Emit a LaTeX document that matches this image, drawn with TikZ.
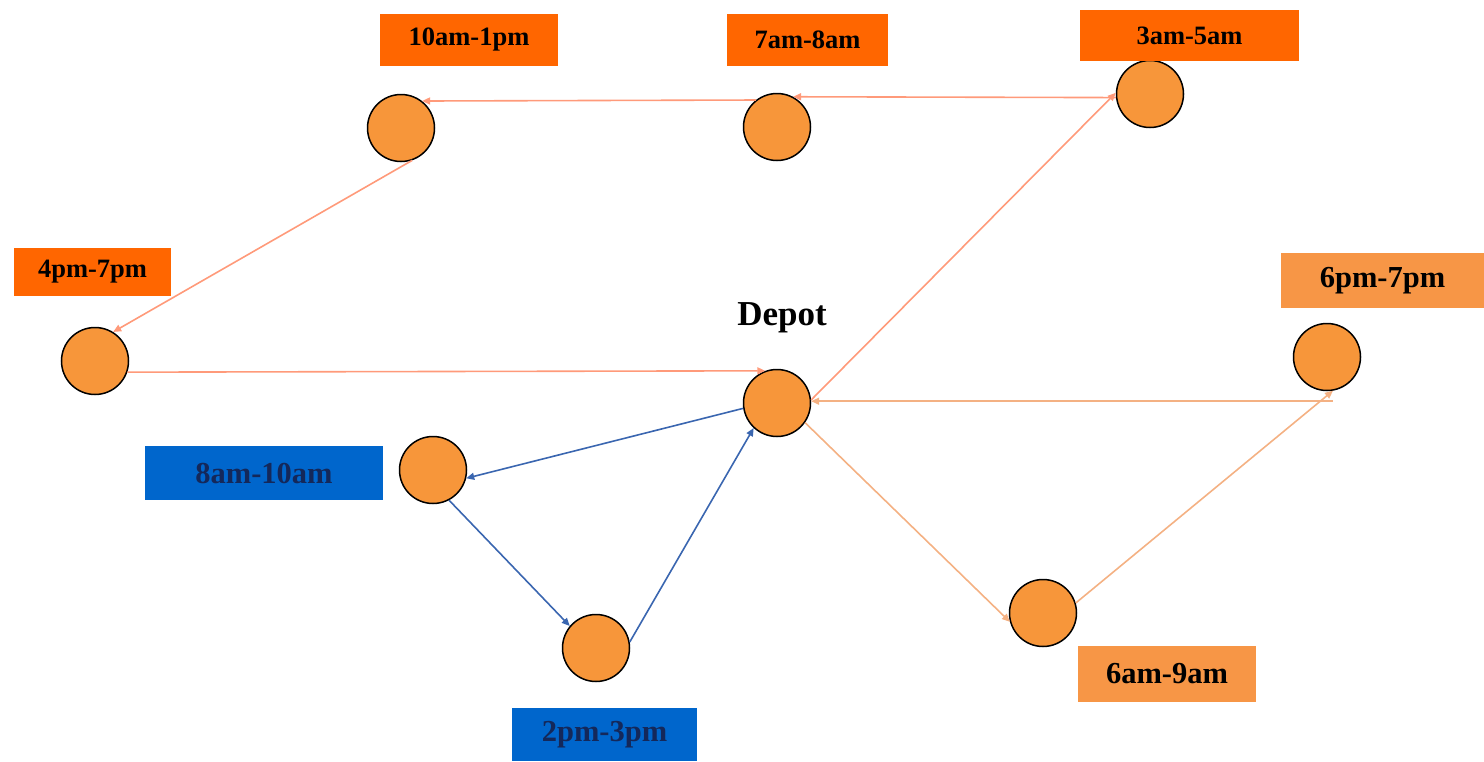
\documentclass[tikz,border=0pt]{standalone}
\usepackage{fontspec}
\setmainfont{Liberation Serif}
\usetikzlibrary{arrows.meta}
\definecolor{darkor}{HTML}{FF6600}
\definecolor{lightor}{HTML}{F79646}
\definecolor{blu}{HTML}{0066CC}
\definecolor{nodefill}{HTML}{F7963A}
\definecolor{navy}{HTML}{14285A}
\definecolor{routeA}{HTML}{FF9A7A}
\definecolor{routeB}{HTML}{3A66B0}
\definecolor{routeC}{HTML}{F4B183}
\begin{document}
\begin{tikzpicture}[x=1pt,y=-1pt,
  stop/.style={circle,draw=black,line width=1.5pt,fill=nodefill,minimum size=67pt,inner sep=0pt},
  boxA/.style={fill=darkor,inner sep=0pt,font=\fontsize{26.5}{30}\selectfont\bfseries,text=black},
  boxC/.style={fill=lightor,inner sep=0pt,font=\fontsize{30.5}{34}\selectfont\bfseries,text=black},
  boxB/.style={fill=blu,inner sep=0pt,font=\fontsize{30.5}{34}\selectfont\bfseries,text=navy},
  tip/.style={-{Triangle[length=8pt,width=7pt]}},
  rA/.style={tip,draw=routeA,line width=1.6pt},
  rB/.style={tip,draw=routeB,line width=1.6pt},
  rC/.style={tip,draw=routeC,line width=1.6pt}]
\useasboundingbox (0,0) rectangle (1484,761);
% stops
\node[stop] (s10) at (401,128) {};
\node[stop] (s7)  at (777,127) {};
\node[stop] (s3)  at (1150,94) {};
\node[stop] (s4)  at (95,361) {};
\node[stop] (dep) at (777,403) {};
\node[stop] (s8)  at (433,470) {};
\node[stop] (s2)  at (596,648) {};
\node[stop] (s6a) at (1043,613) {};
\node[stop] (s6p) at (1327,357) {};
% labels
\node[boxA,minimum width=178pt,minimum height=52pt] (l10) at (469,40) {10am-1pm};
\node[boxA,minimum width=161pt,minimum height=52pt] (l7) at (807.5,40) {7am-8am};
\node[boxA,minimum width=219pt,minimum height=51pt] (l3) at (1189.5,35.5) {3am-5am};
\node[boxA,minimum width=157pt,minimum height=48pt] (l4) at (92.5,272) {4pm-7pm};
\node[boxC,minimum width=203pt,minimum height=55pt] (l6p) at (1382.5,280.5) {6pm-7pm};
\node[boxB,minimum width=238pt,minimum height=54pt] (l8) at (264,473) {8am-10am};
\node[boxB,minimum width=185pt,minimum height=53pt] (l2) at (604.5,734.5) {2pm-3pm};
\node[boxC,minimum width=178pt,minimum height=56pt] (l6a) at (1167,674) {6am-9am};
\node[font=\fontsize{35}{40}\selectfont\bfseries,inner sep=0pt] (ldep) at (782,318) {Depot};
% route A (dark orange)
\draw[rA] (dep.5) -- (s3.178);
\draw[rA] (s3.186) -- (s7.62);
\draw[rA] (s7.128) -- (s10.52);
\draw[rA] (s10.-71) -- (s4.58);
\draw[rA] (s4.-19) -- (dep.110);
% route B (blue)
\draw[rB] (dep.189) -- (s8.-14);
\draw[rB] (s8.-62) -- (s2.140);
\draw[rB] (s2.10) -- (dep.227);
% route C (light orange)
\draw[rC] (dep.-35) -- (s6a.195);
\draw[rC] (s6a.17) -- (s6p.-80);
\draw[rC] (s6p.-80 |- dep.3) -- (dep.3);
\end{tikzpicture}
\end{document}
